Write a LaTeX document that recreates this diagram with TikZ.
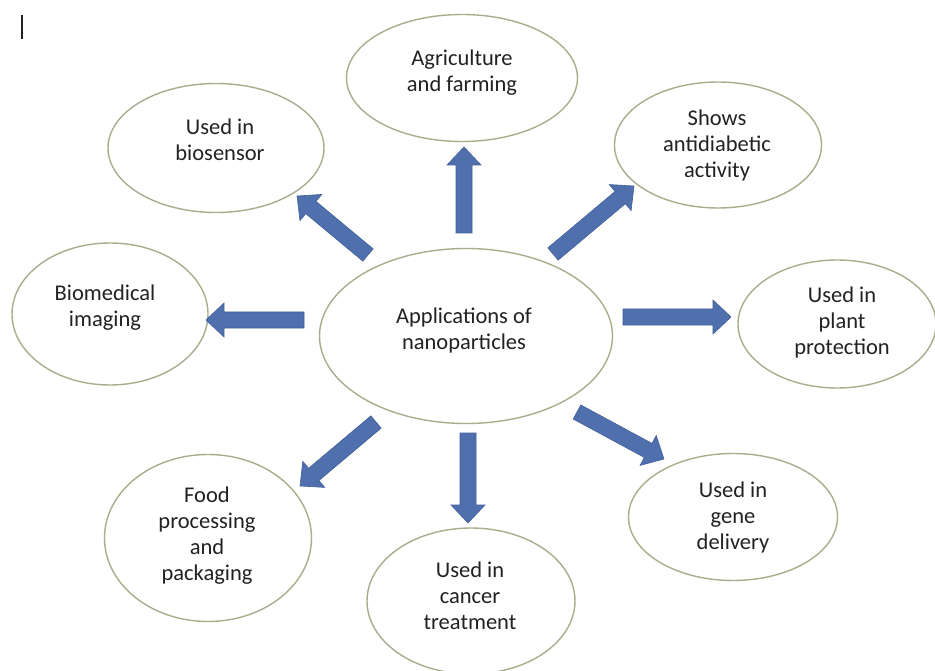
\documentclass[tikz,border=0pt]{standalone}
\usepackage{fontspec}
\setmainfont{Carlito}
\usetikzlibrary{shapes.geometric}
\definecolor{ering}{HTML}{A7AE8C}
\definecolor{arrfill}{HTML}{4F6FAD}
\definecolor{arrline}{HTML}{41609A}
\definecolor{txt}{HTML}{222222}
\newcommand\blockarrow[2]{%
  \pgfpointdiff{\pgfpointanchor{#1}{center}}{\pgfpointanchor{#2}{center}}%
  \pgfgetlastxy{\bkdx}{\bkdy}%
  \pgfmathsetmacro\bkang{atan2(\bkdy,\bkdx)}%
  \pgfmathsetmacro\bklen{veclen(\bkdx,\bkdy)}%
  \pgfmathsetmacro\bkbase{\bklen-18}%
  \filldraw[blk, shift={(#1)}, rotate=\bkang] (0pt,-8pt) -- (\bkbase pt,-8pt) -- (\bkbase pt,-17pt) -- (\bklen pt,0pt) -- (\bkbase pt,17pt) -- (\bkbase pt,8pt) -- (0pt,8pt) -- cycle;}
\begin{document}
\begin{tikzpicture}[x=1pt,y=-1pt,
  ell/.style={ellipse, draw=ering, line width=1.4pt, fill=white, inner sep=0pt},
  lbl/.style={font=\fontsize{22.5}{26}\selectfont, align=center, text=txt, inner sep=0pt},
  blk/.style={fill=arrfill, draw=arrline, line width=0.6pt, line join=miter}]
\useasboundingbox (0,0) rectangle (935,671);
\fill[white] (0,0) rectangle (935,671);
% ellipses
\node[ell, minimum width=293pt, minimum height=175pt] (c) at (466,336) {};
\node[ell, minimum width=231pt, minimum height=127pt] (agri) at (462,78) {};
\node[ell, minimum width=216pt, minimum height=129pt] (bio) at (216,148) {};
\node[ell, minimum width=207pt, minimum height=126pt] (anti) at (718,145) {};
\node[ell, minimum width=196pt, minimum height=142pt] (img) at (110,314) {};
\node[ell, minimum width=198pt, minimum height=128pt] (plant) at (837,324) {};
\node[ell, minimum width=207pt, minimum height=167pt] (food) at (208,538) {};
\node[ell, minimum width=208pt, minimum height=146pt] (cancer) at (471,601) {};
\node[ell, minimum width=209pt, minimum height=127pt] (gene) at (733,517) {};
% texts
\node[lbl] (tc) at (464,331) {Applications of\\nanoparticles};
\node[lbl] (tagri) at (462,73) {Agriculture\\and farming};
\node[lbl] (tbio) at (220,140) {Used in\\biosensor};
\node[lbl] (tanti) at (717,146) {Shows\\antidiabetic\\activity};
\node[lbl] (timg) at (105,308) {Biomedical\\imaging};
\node[lbl] (tplant) at (842,323) {Used in\\plant\\protection};
\node[lbl] (tfood) at (207,536) {Food\\processing\\and\\packaging};
\node[lbl] (tcancer) at (470,596) {Used in\\cancer\\treatment};
\node[lbl] (tgene) at (733,517) {Used in\\gene\\delivery};
% arrow end points
\coordinate (a1) at (464,233); \coordinate (b1) at (464,147);
\coordinate (a2) at (368,255); \coordinate (b2) at (297,196);
\coordinate (a3) at (553,254); \coordinate (b3) at (634,186);
\coordinate (a4) at (304,320); \coordinate (b4) at (206,320);
\coordinate (a5) at (623,317); \coordinate (b5) at (731,317);
\coordinate (a6) at (376,422); \coordinate (b6) at (300,486);
\coordinate (a7) at (468,433); \coordinate (b7) at (468,523);
\coordinate (a8) at (577,412); \coordinate (b8) at (664,459);
\blockarrow{a1}{b1}
\blockarrow{a2}{b2}
\blockarrow{a3}{b3}
\blockarrow{a4}{b4}
\blockarrow{a5}{b5}
\blockarrow{a6}{b6}
\blockarrow{a7}{b7}
\blockarrow{a8}{b8}
% stray mark at top left
\coordinate (m1) at (22,15); \coordinate (m2) at (22,39);
\draw[txt, line width=2pt] (m1) -- (m2);
\end{tikzpicture}
\end{document}
